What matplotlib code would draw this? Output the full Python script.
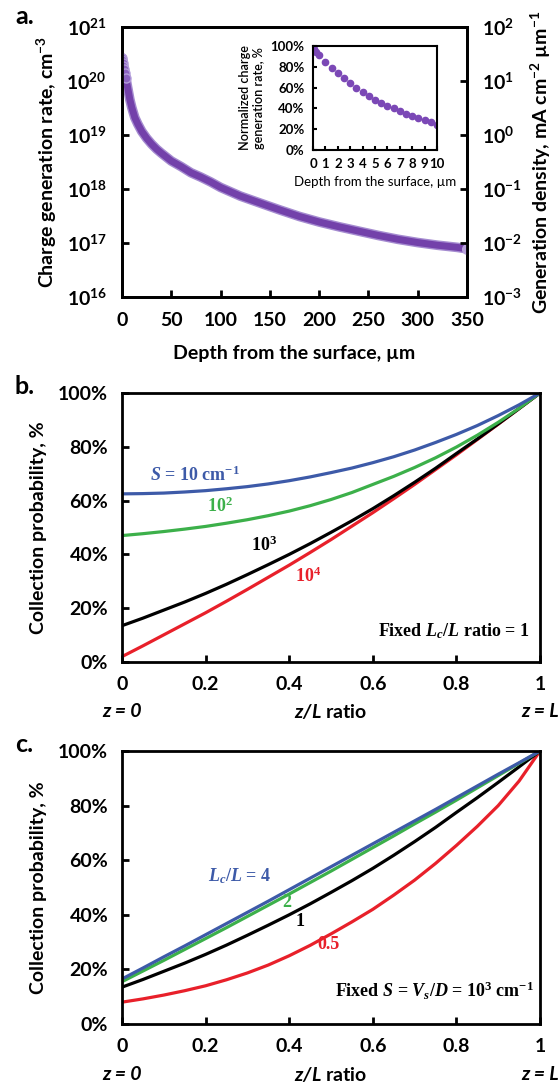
import math
import matplotlib
matplotlib.use('Agg')
import matplotlib.pyplot as plt
from matplotlib.ticker import FixedLocator, FuncFormatter, NullLocator

plt.rcParams['font.family'] = ['Lato', 'DejaVu Sans']
plt.rcParams['font.weight'] = 'bold'
plt.rcParams['axes.labelweight'] = 'bold'
plt.rcParams['mathtext.fontset'] = 'custom'
plt.rcParams['mathtext.rm'] = 'Liberation Serif:bold'
plt.rcParams['mathtext.it'] = 'Liberation Serif:italic:bold'
plt.rcParams['mathtext.sf'] = 'Lato:italic:bold'
plt.rcParams['mathtext.default'] = 'regular'

# ---- panel a: charge generation rate vs depth ----
depth_um = [0, 0.5, 1, 1.5, 2, 3, 4, 5, 6, 8, 10, 13, 16, 20, 25, 30, 35, 40, 50, 60,
            70, 80, 90, 100, 120, 140, 160, 180, 200, 220, 240, 260, 280, 300, 320, 340, 350]
gen_rate = [2.7e20, 2.4e20, 2.14e20, 1.9e20, 1.7e20, 1.41e20, 1.12e20, 8.9e19, 7.1e19, 4.5e19,
            3.2e19, 2.1e19, 1.6e19, 1.17e19, 8.7e18, 6.8e18, 5.5e18, 4.6e18, 3.3e18, 2.6e18,
            2.0e18, 1.66e18, 1.35e18, 1.07e18, 7.4e17, 5.5e17, 4.1e17, 3.1e17, 2.45e17, 2.0e17,
            1.66e17, 1.38e17, 1.17e17, 1.02e17, 9.1e16, 8.3e16, 7.8e16]

# inset: normalized rate over the first 10 um
inset_depth = [0, 0.1, 0.25, 0.5, 1, 1.5, 2, 2.5, 3, 3.5, 4, 4.5, 5, 5.5, 6, 6.5, 7, 7.5, 8, 8.5, 9, 9.5, 10]
inset_norm = [100, 97, 94, 91, 85, 79, 74, 69, 64.5, 60, 56, 52, 48.5, 45.5, 42.5, 40, 37.5, 35, 33, 31, 29, 27, 24]

# ---- panels b, c: collection probability (%) vs z/L ----
zl = [0, .05, .1, .15, .2, .25, .3, .35, .4, .45, .5, .55, .6, .65, .7, .75, .8, .85, .9, .95, 1]
b_S10 = [62.5, 62.6, 62.8, 63.2, 63.7, 64.4, 65.2, 66.2, 67.4, 68.8, 70.4, 72.1, 74.1,
         76.3, 78.8, 81.6, 84.6, 87.9, 91.6, 95.6, 100]
b_S1e2 = [47.0, 47.7, 48.5, 49.4, 50.4, 51.6, 52.9, 54.4, 56.1, 58.1, 60.4, 63.0, 66.0,
          69.0, 72.3, 75.9, 79.9, 84.3, 89.1, 94.3, 100]
b_S1e3 = [13.5, 16.3, 19.3, 22.3, 25.5, 28.9, 32.5, 36.2, 40.0, 44.0, 48.2, 52.5, 57.0,
          61.8, 66.8, 72.0, 77.5, 82.9, 88.5, 94.2, 100]
b_S1e4 = [2.0, 6.0, 10.1, 14.2, 18.3, 22.6, 27.0, 31.5, 36.0, 40.7, 45.5, 50.5, 55.5,
          60.7, 66.0, 71.5, 77.0, 82.7, 88.4, 94.2, 100]

c_L4 = [16.5, 20.5, 24.6, 28.6, 32.7, 36.8, 40.9, 45.0, 49.2, 53.4, 57.6, 61.8, 66.0,
        70.2, 74.4, 78.6, 82.9, 87.2, 91.5, 95.7, 100]
c_L2 = [15.5, 19.4, 23.3, 27.3, 31.3, 35.3, 39.4, 43.5, 47.6, 51.8, 56.0, 60.3, 64.6,
        68.9, 73.3, 77.6, 82.0, 86.5, 91.0, 95.5, 100]
c_L1 = [13.5, 16.3, 19.3, 22.3, 25.5, 28.9, 32.5, 36.2, 40.0, 44.0, 48.2, 52.5, 57.0,
        61.8, 66.8, 72.0, 77.5, 82.9, 88.5, 94.2, 100]
c_L05 = [8.0, 9.2, 10.6, 12.2, 14.0, 16.2, 18.7, 21.6, 25.0, 28.8, 33.0, 37.4, 42.0,
         47.2, 52.7, 58.8, 65.4, 72.4, 80.0, 89.0, 100]

BLUE, GREEN, RED = '#3d5aa8', '#3cb04a', '#e8202a'
PURPLE = '#7341aa'
FS = 14

W, H = 560, 1084
fig = plt.figure(figsize=(W / 100, H / 100), dpi=100)


def box(l, t, r, b):
    return [l / W, 1 - b / H, (r - l) / W, (b - t) / H]


def style_axes(ax, fs=FS, pad=11):
    for s in ax.spines.values():
        s.set_linewidth(2.0)
    ax.tick_params(direction='in', length=5, width=2, labelsize=fs, pad=pad)


def pow10(v, p):
    return r'$10^{%d}$' % round(math.log10(v))


# ================= a =================
axa = fig.add_axes(box(122, 27, 467, 297))
axa.plot(depth_um, gen_rate, color='#a58bd0', lw=7, solid_capstyle='round', zorder=2)
axa.plot(depth_um, gen_rate, color=PURPLE, lw=5, solid_capstyle='round', zorder=3)
axa.plot(depth_um[:7], gen_rate[:7], 'o', ms=6.5, mfc='#8a62c0', mec='#b39ddb', mew=1, zorder=4)
axa.plot(depth_um[-1:], gen_rate[-1:], 'o', ms=7, mfc='#b9a3dc', mec='#b9a3dc', zorder=4)
axa.set_yscale('log')
axa.set_xlim(0, 350)
axa.set_ylim(1e16, 1e21)
axa.xaxis.set_major_locator(FixedLocator(range(0, 351, 50)))
axa.yaxis.set_major_locator(FixedLocator([10.0 ** k for k in range(16, 22)]))
axa.yaxis.set_minor_locator(NullLocator())
axa.yaxis.set_major_formatter(FuncFormatter(pow10))
style_axes(axa)
axa.set_xlabel('Depth from the surface, µm', fontsize=FS, labelpad=11)
axa.set_ylabel('Charge generation rate, cm$^{-3}$', fontsize=FS, labelpad=5)

axr = axa.twinx()
axr.set_yscale('log')
axr.set_ylim(1e-3, 1e2)
axr.yaxis.set_major_locator(FixedLocator([10.0 ** k for k in range(-3, 3)]))
axr.yaxis.set_minor_locator(NullLocator())
axr.yaxis.set_major_formatter(FuncFormatter(pow10))
style_axes(axr)
axr.set_ylabel('Generation density, mA cm$^{-2}$ µm$^{-1}$', fontsize=FS, labelpad=5)

# inset
axi = fig.add_axes(box(313, 46, 437, 150))
axi.plot(inset_depth, inset_norm, 'o', ms=4.5, color='#7b48b6')
axi.set_xlim(0, 10)
axi.set_ylim(0, 100)
axi.set_xticks(range(0, 11))
axi.set_yticks(range(0, 101, 20))
axi.set_yticklabels(['%d%%' % v for v in range(0, 101, 20)])
for s in axi.spines.values():
    s.set_linewidth(1.5)
axi.tick_params(direction='in', length=3, width=1.5, labelsize=9.5, pad=6)
axi.set_xlabel('Depth from the surface, µm', fontsize=9.5, fontweight='normal', labelpad=4)
axi.set_ylabel('Normalized charge\ngeneration rate, %', fontsize=9, fontweight='semibold', labelpad=4)

fig.text(15 / W, 1 - 17 / H, 'a.', fontsize=18, fontweight='bold', va='center')


# ================= b, c =================
def collection_panel(ax):
    ax.set_xlim(0, 1)
    ax.set_ylim(0, 100)
    ax.set_xticks([0, 0.2, 0.4, 0.6, 0.8, 1])
    ax.set_xticklabels(['0', '0.2', '0.4', '0.6', '0.8', '1'])
    ax.set_yticks(range(0, 101, 20))
    ax.set_yticklabels(['%d%%' % v for v in range(0, 101, 20)])
    style_axes(ax, pad=10)
    ax.set_ylabel('Collection probability, %', fontsize=FS, labelpad=8)
    tr = ax.get_xaxis_transform()
    ax.text(0, -0.185, 'z = 0', transform=tr, ha='center', va='center', fontsize=FS, style='italic')
    ax.text(0.5, -0.185, r'$\mathsf{z/L}$ ratio', transform=tr, ha='center', va='center', fontsize=FS)
    ax.text(1, -0.185, 'z = L', transform=tr, ha='center', va='center', fontsize=FS, style='italic')


serif = dict(family='Liberation Serif', fontweight='bold', fontsize=13)

axb = fig.add_axes(box(122, 393, 540, 662))
axb.plot(zl, b_S1e4, color=RED, lw=2.3)
axb.plot(zl, b_S1e3, color='black', lw=2.3)
axb.plot(zl, b_S1e2, color=GREEN, lw=2.3)
axb.plot(zl, b_S10, color=BLUE, lw=2.3)
collection_panel(axb)
axb.text(0.175, 69.5, r'$\mathit{S}$ = 10 cm$^{-1}$', color=BLUE, ha='center', va='center', **serif)
axb.text(0.235, 58, '10$^{2}$', color=GREEN, ha='center', va='center', **serif)
axb.text(0.34, 43.5, '10$^{3}$', color='black', ha='center', va='center', **serif)
axb.text(0.445, 32, '10$^{4}$', color=RED, ha='center', va='center', **serif)
axb.text(0.975, 11.5, r'Fixed $\mathit{L_c/L}$ ratio = 1', color='black', ha='right', va='center', **serif)
fig.text(15 / W, 1 - 386 / H, 'b.', fontsize=18, fontweight='bold', va='center')

axc = fig.add_axes(box(122, 751, 540, 1024))
axc.plot(zl, c_L05, color=RED, lw=2.3)
axc.plot(zl, c_L1, color='black', lw=2.3)
axc.plot(zl, c_L2, color=GREEN, lw=2.3)
axc.plot(zl, c_L4, color=BLUE, lw=2.3)
collection_panel(axc)
axc.text(0.28, 54, r'$\mathit{L_c/L}$ = 4', color=BLUE, ha='center', va='center', **serif)
axc.text(0.395, 44.5, '2', color=GREEN, ha='center', va='center', **serif)
axc.text(0.425, 37.5, '1', color='black', ha='center', va='center', **serif)
axc.text(0.495, 29, '0.5', color=RED, ha='center', va='center', **serif)
axc.text(0.985, 12, r'Fixed $\mathit{S}$ = $\mathit{V_s/D}$ = 10$^{3}$ cm$^{-1}$', color='black',
         ha='right', va='center', **serif)
fig.text(15 / W, 1 - 744 / H, 'c.', fontsize=18, fontweight='bold', va='center')

fig.savefig('out.png', dpi=100)
